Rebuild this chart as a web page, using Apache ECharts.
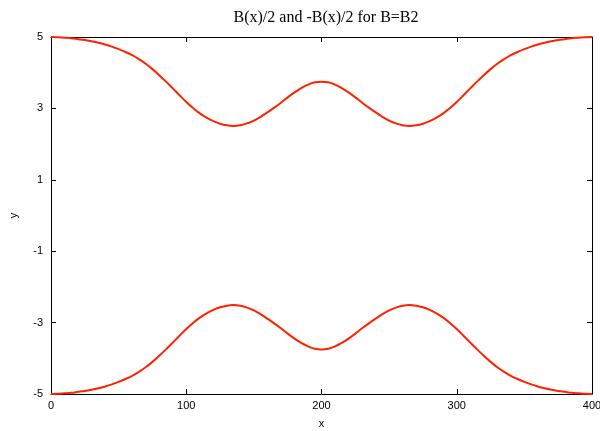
<!DOCTYPE html>
<html><head><meta charset="utf-8">
<script src="https://cdn.jsdelivr.net/npm/echarts@6/dist/echarts.min.js"></script>
<style>html,body{margin:0;padding:0;background:#fff}#c{width:600px;height:431px}</style>
</head><body><div id="c"></div>
<script>
var xValues = [0,5,10,15,20,25,30,35,40,45,50,55,60,65,70,75,80,85,90,95,100,105,110,115,120,125,130,135,140,145,150,155,160,165,170,175,180,185,190,195,200,
  205,210,215,220,225,230,235,240,245,250,255,260,265,270,275,280,285,290,295,300,305,310,315,320,325,330,335,340,345,350,355,360,365,370,375,380,385,390,395,400];
var upperValues = [5.00,4.995,4.98,4.965,4.94,4.915,4.88,4.84,4.79,4.73,4.66,4.58,4.49,4.38,4.25,4.10,3.93,3.75,3.56,3.37,3.18,3.01,2.86,2.74,2.645,2.57,2.525,2.51,2.53,2.58,2.66,2.765,2.89,3.02,3.16,3.31,3.45,3.57,3.665,3.73,3.75,
  3.73,3.665,3.57,3.45,3.31,3.16,3.02,2.89,2.765,2.66,2.58,2.53,2.51,2.525,2.57,2.645,2.74,2.86,3.01,3.18,3.37,3.56,3.75,3.93,4.10,4.25,4.38,4.49,4.58,4.66,4.73,4.79,4.84,4.88,4.915,4.94,4.965,4.98,4.995,5.00];
var lowerValues = upperValues.map(function(v){return -v;});
var xTicks = [0,100,200,300,400];
var yTicks = [-5,-3,-1,1,3,5];
var titleText = 'B(x)/2 and -B(x)/2 for B=B2';

function pairs(xs, ys){ return xs.map(function(x,i){return [x, ys[i]];}); }

var chart = echarts.init(document.getElementById('c'));
var lab = {fontFamily:'Liberation Sans, Arial, sans-serif', fontSize:11, color:'#000'};
function axLine(){ return {onZero:false, lineStyle:{color:'#000', width:1}}; }
chart.setOption({
  animation:false,
  title:{text:titleText, left:321, textAlign:'center', top:5,
    textStyle:{fontFamily:'Liberation Serif, Times New Roman, serif', fontSize:16, fontWeight:'normal', color:'#000'}},
  grid:{left:51, right:8, top:37, bottom:37, containLabel:false, outerBoundsMode:'none'},
  xAxis:[
    {type:'value', min:0, max:400, position:'bottom', name:'x', nameLocation:'middle', nameGap:24,
     nameTextStyle:lab, axisLine:axLine(),
     axisTick:{inside:true, length:5, customValues:xTicks, lineStyle:{color:'#000'}},
     axisLabel:Object.assign({customValues:xTicks, margin:6, hideOverlap:false}, lab),
     splitLine:{show:false}},
    {type:'value', min:0, max:400, position:'top', axisLine:axLine(),
     axisTick:{inside:true, length:5, customValues:xTicks, lineStyle:{color:'#000'}},
     axisLabel:{show:false}, splitLine:{show:false}}
  ],
  yAxis:[
    {type:'value', min:-5, max:5, position:'left', name:'y', nameLocation:'middle', nameGap:32,
     nameTextStyle:lab, axisLine:axLine(),
     axisTick:{inside:true, length:5, customValues:yTicks, lineStyle:{color:'#000'}},
     axisLabel:Object.assign({customValues:yTicks, margin:8}, lab),
     splitLine:{show:false}},
    {type:'value', min:-5, max:5, position:'right', axisLine:axLine(),
     axisTick:{inside:true, length:5, customValues:yTicks, lineStyle:{color:'#000'}},
     axisLabel:{show:false}, splitLine:{show:false}}
  ],
  series:[
    {type:'line', data:pairs(xValues, upperValues), smooth:0.3, showSymbol:false,
     lineStyle:{color:'#ff2200', width:2}, silent:true},
    {type:'line', data:pairs(xValues, lowerValues), smooth:0.3, showSymbol:false,
     lineStyle:{color:'#ff2200', width:2}, silent:true}
  ]
});
</script></body></html>
